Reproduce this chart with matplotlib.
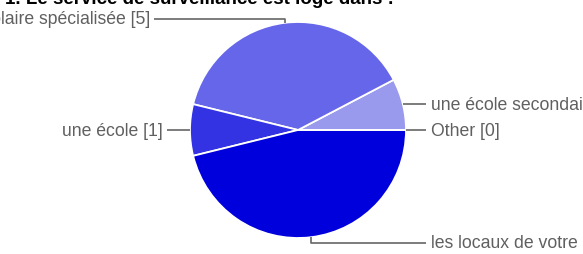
import numpy as np
import matplotlib
matplotlib.use("Agg")
from matplotlib import pyplot as plt

plt.rcParams['font.family'] = ['Liberation Sans', 'DejaVu Sans']

title = "1. Le service de surveillance est logé dans :"
labels = ["une école secondaire [1]", "une structure scolaire spécialisée [5]",
          "une école [1]", "les locaux de votre établissement [6]", "Other [0]"]
counts = [1, 5, 1, 6, 0]
colors = ["#9999ee", "#6666ea", "#3333e3", "#0000dc", "#c0c0f5"]

W, H = 583, 255
fig = plt.figure(figsize=(W / 100, H / 100), dpi=100)
ax = fig.add_axes([0, 0, 1, 1])

# pixel coords, y up
cx, cy, r = 298, H - 131, 108
wedges, _ = ax.pie(counts, colors=colors, startangle=0, counterclock=True,
                   center=(cx, cy), radius=r,
                   wedgeprops=dict(edgecolor='white', linewidth=1.3))
ax.set_xlim(0, W)
ax.set_ylim(0, H)
ax.set_aspect('equal')
ax.axis('off')

# leader lines: (label y in px, side, label x)
layout = [
    (105, 'right', 431),
    (20, 'left', 150),
    (131, 'left', 163),
    (244, 'right', 431),
    (131, 'right', 431),
]
tot = sum(counts)
start = 0.0
gray = '#666666'
for lab, c, (ly, side, tx) in zip(labels, counts, layout):
    ang = start + 180.0 * c / tot
    start += 360.0 * c / tot
    px = cx + r * np.cos(np.radians(ang))
    py = cy + r * np.sin(np.radians(ang))
    lyu = H - ly
    if side == 'right':
        x_end = tx - 5
        ax.plot([px, px, x_end], [py, lyu, lyu], color=gray, lw=1.2, solid_capstyle='butt')
        ax.text(tx, lyu, lab, ha='left', va='center', fontsize=12.7, color='#606060')
    else:
        x_end = tx + 4
        ax.plot([px, px, x_end], [py, lyu, lyu], color=gray, lw=1.2, solid_capstyle='butt')
        ax.text(tx, lyu, lab, ha='right', va='center', fontsize=12.7, color='#606060')

ax.text(5, H - 4, title, ha='left', va='baseline', fontsize=13.5, fontweight='bold', color='black')

fig.savefig('out.png', dpi=100)
